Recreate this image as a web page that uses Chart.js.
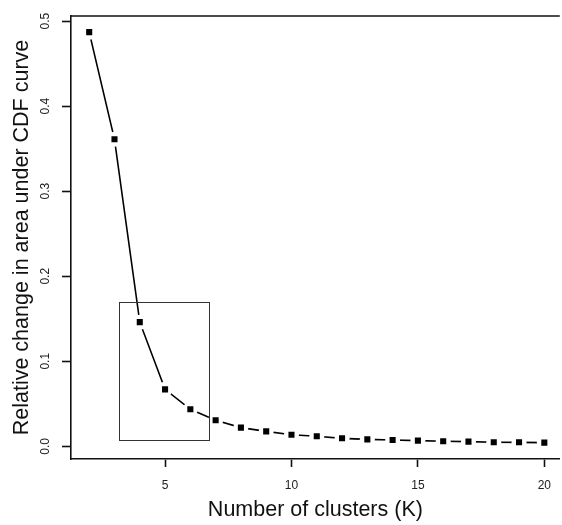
<!DOCTYPE html>
<html>
<head>
<meta charset="utf-8">
<script src="https://cdn.jsdelivr.net/npm/chart.js@4"></script>
<style>
  body { margin: 0; background: #fff; }
  #wrap { width: 562px; height: 525px; }
</style>
</head>
<body>
<div id="wrap"><canvas id="grafico"></canvas></div>
<script>
// valores
const clusters = [2, 3, 4, 5, 6, 7, 8, 9, 10, 11, 12, 13, 14, 15, 16, 17, 18, 19, 20];
const cambioRelativo = [0.487, 0.361, 0.146, 0.067, 0.0435, 0.0306, 0.022, 0.0176, 0.0137, 0.0118,
                        0.0094, 0.0082, 0.0074, 0.0067, 0.006, 0.0055, 0.0048, 0.0047, 0.0044];
const xTicks = [5, 10, 15, 20];
const yTicks = [0.0, 0.1, 0.2, 0.3, 0.4, 0.5];
// recuadro de zoom (K y valor)
const cajaX = [3.17, 6.71];
const cajaY = [0.008, 0.17];

const puntos = clusters.map((k, i) => ({ x: k, y: cambioRelativo[i] }));
const fuente = '"Liberation Sans", Arial, Helvetica, sans-serif';

// borde superior + recuadro
const extras = {
    id: 'extras',
    afterDatasetsDraw(chart) {
        const { ctx, chartArea, scales } = chart;
        ctx.save();
        ctx.strokeStyle = '#111';
        ctx.lineWidth = 1.6;
        ctx.beginPath();
        ctx.moveTo(chartArea.left, chartArea.top);
        ctx.lineTo(chartArea.right, chartArea.top);
        ctx.stroke();

        const x0 = scales.x.getPixelForValue(cajaX[0]);
        const x1 = scales.x.getPixelForValue(cajaX[1]);
        const y0 = scales.y.getPixelForValue(cajaY[1]);
        const y1 = scales.y.getPixelForValue(cajaY[0]);
        ctx.strokeStyle = '#333';
        ctx.lineWidth = 1;
        ctx.strokeRect(Math.round(x0) + 0.5, Math.round(y0) + 0.5, Math.round(x1 - x0), Math.round(y1 - y0));
        ctx.restore();
    }
};

new Chart(document.getElementById('grafico'), {
    type: 'scatter',
    data: {
        datasets: [
            {   // marcadores
                data: puntos,
                showLine: false,
                pointStyle: 'rect',
                pointRadius: 4.3,
                pointBackgroundColor: '#000',
                pointBorderWidth: 0,
                order: 0
            },
            {   // hueco blanco alrededor de cada punto (tipo "b" de R)
                data: puntos,
                showLine: false,
                pointStyle: 'circle',
                pointRadius: 7.5,
                pointBackgroundColor: '#fff',
                pointBorderWidth: 0,
                order: 1
            },
            {   // línea
                data: puntos,
                showLine: true,
                borderColor: '#000',
                borderWidth: 1.6,
                pointRadius: 0,
                tension: 0,
                order: 2
            }
        ]
    },
    plugins: [extras],
    options: {
        responsive: true,
        maintainAspectRatio: false,
        animation: false,
        layout: { autoPadding: false, padding: { top: 16, left: 0, right: 0, bottom: 0 } },
        plugins: { legend: { display: false }, tooltip: { enabled: false } },
        scales: {
            x: {
                type: 'linear',
                min: 1.28,
                max: 20.61,
                afterBuildTicks: s => { s.ticks = xTicks.map(v => ({ value: v })); },
                afterFit: s => { s.height = 66; },
                grid: { drawOnChartArea: false, drawTicks: true, tickLength: 8, color: '#111', tickWidth: 1.6 },
                border: { display: true, color: '#111', width: 1.6 },
                ticks: { color: '#222', font: { family: fuente, size: 12 }, padding: 11, maxRotation: 0 },
                title: {
                    display: true,
                    text: 'Number of clusters (K)',
                    color: '#111',
                    font: { family: fuente, size: 21.5 },
                    padding: { top: 0, bottom: 2 }
                }
            },
            y: {
                type: 'linear',
                min: -0.0149,
                max: 0.506,
                afterBuildTicks: s => { s.ticks = yTicks.map(v => ({ value: v })); },
                afterFit: s => { s.width = 71; },
                grid: { drawOnChartArea: false, drawTicks: true, tickLength: 9, color: '#111', tickWidth: 1.6 },
                border: { display: true, color: '#111', width: 1.6 },
                ticks: {
                    color: '#222',
                    font: { family: fuente, size: 12 },
                    minRotation: 90,
                    maxRotation: 90,
                    crossAlign: 'center',
                    padding: 8,
                    callback: v => v.toFixed(1)
                },
                title: {
                    display: true,
                    text: 'Relative change in area under CDF curve',
                    color: '#111',
                    font: { family: fuente, size: 21.5 },
                    padding: { top: 9, bottom: 0 }
                }
            }
        }
    }
});
</script>
</body>
</html>
